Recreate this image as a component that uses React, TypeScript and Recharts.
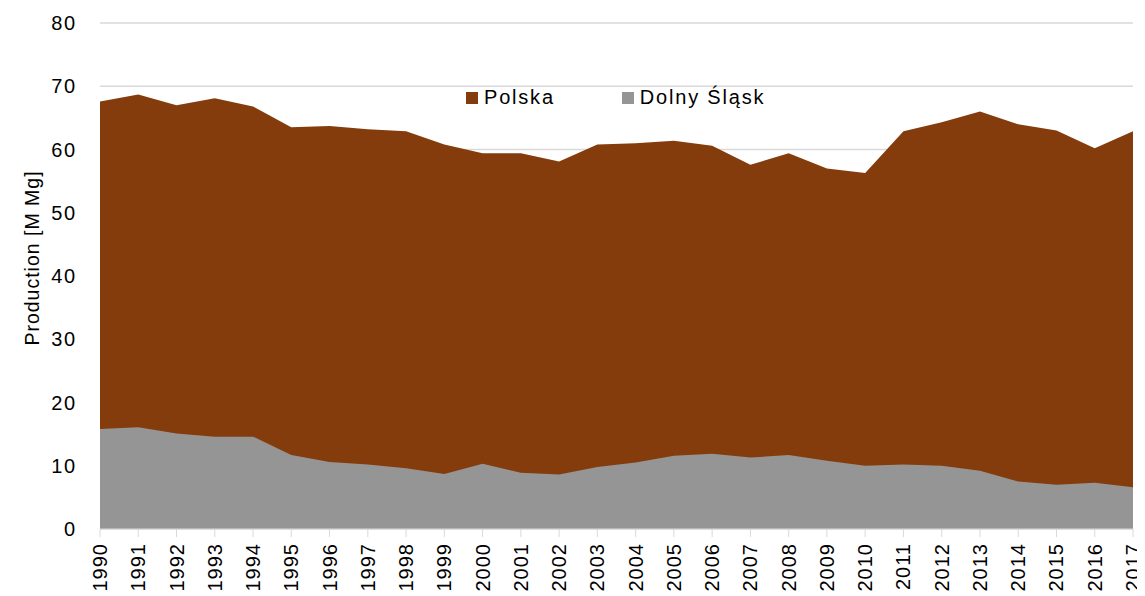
import { AreaChart, Area, XAxis, YAxis, CartesianGrid } from 'recharts';

const years = [
  '1990', '1991', '1992', '1993', '1994', '1995', '1996', '1997', '1998', '1999',
  '2000', '2001', '2002', '2003', '2004', '2005', '2006', '2007', '2008', '2009',
  '2010', '2011', '2012', '2013', '2014', '2015', '2016', '2017',
];

const polska = [
  67.6, 68.7, 67.0, 68.1, 66.8, 63.5, 63.7, 63.2, 62.9, 60.8,
  59.4, 59.4, 58.1, 60.8, 61.0, 61.4, 60.6, 57.6, 59.4, 57.0,
  56.3, 62.9, 64.3, 66.0, 64.0, 63.0, 60.2, 62.9,
];

const dolnySlask = [
  15.8, 16.1, 15.1, 14.6, 14.6, 11.7, 10.6, 10.2, 9.6, 8.7,
  10.3, 8.9, 8.6, 9.8, 10.5, 11.6, 11.9, 11.3, 11.7, 10.8,
  10.0, 10.2, 10.0, 9.2, 7.5, 7.0, 7.3, 6.6,
];

const yTicks = [0, 10, 20, 30, 40, 50, 60, 70, 80];

const BROWN = '#843c0c';
const GRAY = '#959595';
const FONT = '"Liberation Sans", Arial, sans-serif';

const data = years.map((year, i) => ({
  year,
  polska: polska[i],
  dolnySlask: dolnySlask[i],
}));

const legendItems = [
  { label: 'Polska', color: BROWN },
  { label: 'Dolny Śląsk', color: GRAY },
];

function YearTick(props: any) {
  const { x, y, payload } = props;
  const ty = y + 4;
  return (
    <text
      x={x}
      y={ty}
      transform={`rotate(-90 ${x} ${ty})`}
      textAnchor="end"
      dominantBaseline="central"
      fontSize={20}
      letterSpacing={1}
      fontFamily={FONT}
      fill="#000"
    >
      {payload.value}
    </text>
  );
}

export default function App() {
  return (
    <div style={{ position: 'relative', width: 1137, height: 588 }}>
      <AreaChart width={1137} height={588} data={data} margin={{ top: 15, right: 12, bottom: 0, left: 0 }}>
        <CartesianGrid vertical={false} stroke="#d9d9d9" strokeWidth={1.3} />
        <XAxis
          dataKey="year"
          interval={0}
          height={67}
          tickSize={8}
          tickLine={{ stroke: '#d9d9d9' }}
          axisLine={{ stroke: '#d9d9d9' }}
          tick={<YearTick />}
        />
        <YAxis
          domain={[0, 80]}
          ticks={yTicks}
          width={92}
          axisLine={false}
          tickLine={false}
          tickSize={10}
          tickMargin={13}
          tick={{ fontSize: 20, fontFamily: FONT, fill: '#000', letterSpacing: 1.8 }}
          label={{
            content: () => (
              <text
                x={24}
                y={250}
                transform="rotate(-90 24 250)"
                textAnchor="middle"
                dominantBaseline="central"
                fontSize={19.5}
                letterSpacing={1}
                fontFamily={FONT}
                fill="#000"
              >
                Production [M Mg]
              </text>
            ),
          }}
        />
        <Area
          type="linear"
          dataKey="polska"
          name="Polska"
          stroke="none"
          fill={BROWN}
          fillOpacity={1}
          isAnimationActive={false}
        />
        <Area
          type="linear"
          dataKey="dolnySlask"
          name="Dolny Śląsk"
          stroke="none"
          fill={GRAY}
          fillOpacity={1}
          isAnimationActive={false}
        />
      </AreaChart>
      <div
        style={{
          position: 'absolute',
          top: 78,
          left: 458,
          display: 'flex',
          fontFamily: FONT,
          fontSize: 20,
          letterSpacing: 1.8,
          color: '#000',
        }}
      >
        {legendItems.map((item, i) => (
          <div key={item.label} style={{ display: 'flex', alignItems: 'center', marginRight: i === 0 ? 67 : 0 }}>
            <span style={{ width: 12, height: 12, background: item.color, marginRight: 6, display: 'inline-block' }} />
            <span>{item.label}</span>
          </div>
        ))}
      </div>
    </div>
  );
}
